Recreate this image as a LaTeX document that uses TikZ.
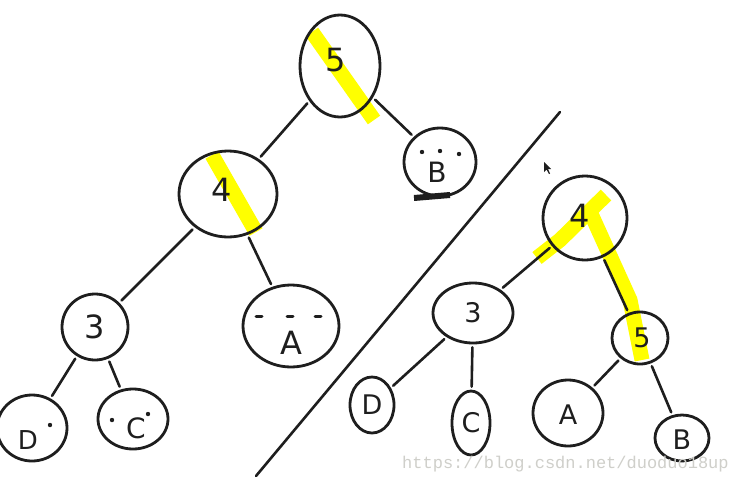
\documentclass[tikz,border=0pt]{standalone}
\usepackage{fontspec}
\setmainfont{DejaVu Sans}
\newfontfamily\wmfont{Liberation Mono}
\usetikzlibrary{shapes.geometric}
\definecolor{ink}{HTML}{1E1E1E}
\definecolor{hl}{HTML}{FFFF00}
\definecolor{wm}{HTML}{CFCFCA}
\tikzset{
  nd/.style={ellipse, draw=ink, line width=2.8pt, inner sep=0pt},
  lbl/.style={inner sep=0pt, text=ink, font=\fontsize{32}{32}\selectfont},
  slbl/.style={lbl, font=\fontsize{27}{27}\selectfont},
  edge/.style={draw=ink, line width=2.6pt, line cap=round, shorten <=3pt, shorten >=3pt},
  hlstroke/.style={draw=hl, line width=15pt},
  dotm/.style={fill=ink}
}
\begin{document}
\begin{tikzpicture}[x=1pt,y=-1pt]
\useasboundingbox[fill=white] (0,0) rectangle (741,485);
% yellow highlights
\draw[hlstroke] (312,32) -- (374,120);
\draw[hlstroke] (212,155) -- (256,232);
\draw[hlstroke] (537,258) -- (560,240) -- (606,195);
\draw[hlstroke] (587,205) -- (630,300) -- (642,360);
% left tree
\node[nd, minimum width=80, minimum height=102] (L5) at (340,66) {};
\node[nd, minimum width=72, minimum height=68] (LB) at (440,162) {};
\node[nd, minimum width=98, minimum height=86] (L4) at (228,194) {};
\node[nd, minimum width=96, minimum height=82] (LA) at (291,326) {};
\node[nd, minimum width=66, minimum height=66] (L3) at (95,327) {};
\node[nd, minimum width=70, minimum height=66] (LD) at (32,428) {};
\node[nd, minimum width=70, minimum height=60] (LC) at (133,419) {};
\node[lbl] (tL5) at (336,60) {5};
\node[lbl, font=\fontsize{28}{28}\selectfont] (tLB) at (437,172) {B};
\node[lbl] (tL4) at (222,190) {4};
\node[lbl] (tLA) at (291,343) {A};
\node[lbl] (tL3) at (95,327) {3};
\node[lbl, font=\fontsize{26}{26}\selectfont] (tLD) at (28,440) {D};
\node[lbl, font=\fontsize{28}{28}\selectfont] (tLC) at (136,428) {C};
\draw[edge] (L5) -- (L4);
\draw[edge] (L5) -- (LB);
\draw[edge] (L4) -- (L3);
\draw[edge] (L4) -- (LA);
\draw[edge] (L3) -- (LD);
\draw[edge] (L3) -- (LC);
% face marks
\fill[dotm] (422,152) circle (2.2) (440,151) circle (2.2) (459,154) circle (2.2);
\draw[ink, line width=3pt, line cap=round] (256,316) -- (262,316) (287,316) -- (293,316) (315,316) -- (321,316);
\fill[dotm] (50,425) circle (2.2);
\fill[dotm] (112,420) circle (2.2) (148,414) circle (2.2);
\draw[ink, line width=6pt] (414,198) -- (450,195);
% divider
\coordinate (dv1) at (560,112);
\coordinate (dv2) at (256,476);
\draw[draw=ink, line width=2.6pt, line cap=round] (dv1) -- (dv2);
% right tree
\node[nd, minimum width=84, minimum height=84] (R4) at (585,218) {};
\node[nd, minimum width=80, minimum height=60] (R3) at (473,313) {};
\node[nd, minimum width=56, minimum height=52] (R5) at (640,338) {};
\node[nd, minimum width=44, minimum height=56] (RD) at (372,405) {};
\node[nd, minimum width=38, minimum height=64] (RC) at (471,423) {};
\node[nd, minimum width=70, minimum height=66] (RA) at (568,413) {};
\node[nd, minimum width=54, minimum height=46] (RB) at (682,438) {};
\node[lbl] (tR4) at (580,216) {4};
\node[slbl] (tR3) at (473,313) {3};
\node[slbl] (tR5) at (642,338) {5};
\node[slbl] (tRD) at (372,405) {D};
\node[slbl] (tRC) at (471,423) {C};
\node[slbl] (tRA) at (568,415) {A};
\node[slbl] (tRB) at (682,440) {B};
\draw[edge] (R4) -- (R3);
\draw[edge] (R4) -- (R5);
\draw[edge] (R3) -- (RD);
\draw[edge] (R3) -- (RC);
\draw[edge] (R5) -- (RA);
\draw[edge] (R5) -- (RB);
% cursor
\fill[ink] (544,162) -- (544,172) -- (546.5,169.5) -- (549,174) -- (550,173.5) -- (548,169) -- (551,169) -- cycle;
% watermark
\node[anchor=west, text=wm, inner sep=0pt, font=\wmfont\fontsize{17}{17}\selectfont] (wm) at (402,464) {https://blog.csdn.net/duoduo18up};
\end{tikzpicture}
\end{document}
